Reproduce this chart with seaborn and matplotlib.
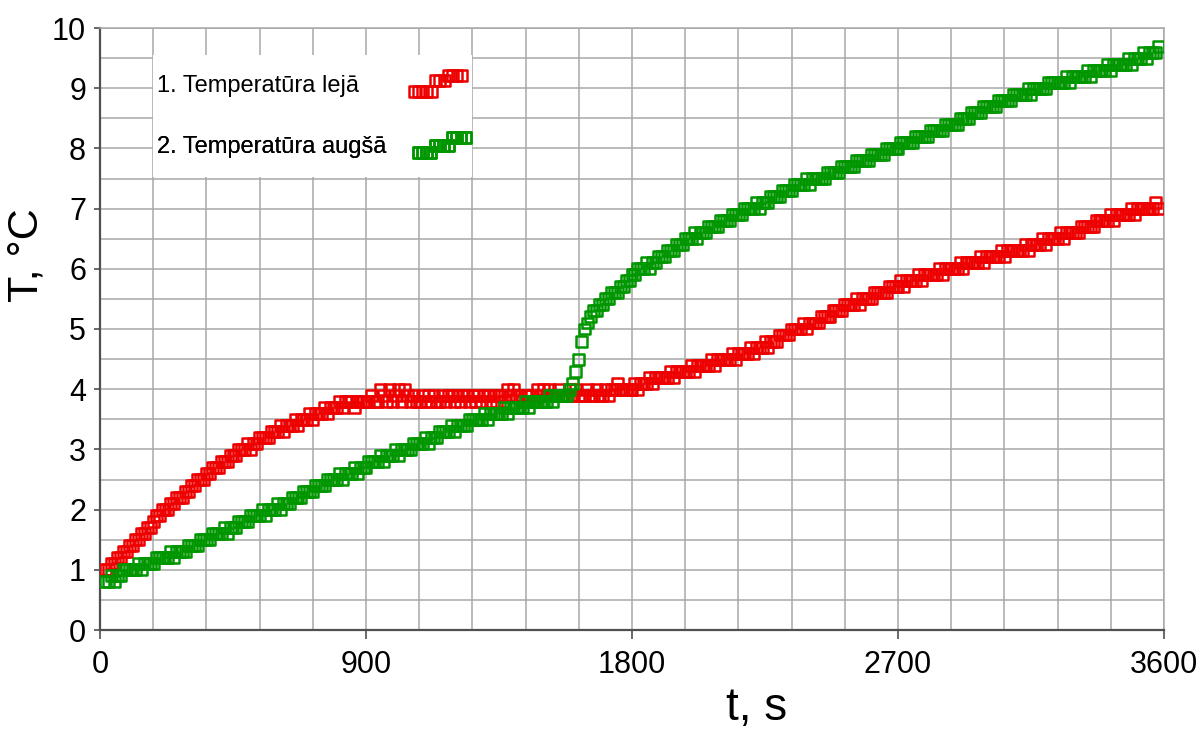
import matplotlib
matplotlib.use("Agg")
import matplotlib.pyplot as plt
from matplotlib import font_manager
from matplotlib.patches import Rectangle
from matplotlib.ticker import FixedLocator, MultipleLocator
import pandas as pd
import seaborn as sns

# ---------------- data ----------------
time_s = list(range(20, 3581, 10))

temp_lower = [
    1.0, 1.0, 1.1, 1.1, 1.2, 1.2, 1.3, 1.3,
    1.4, 1.4, 1.5, 1.5, 1.6, 1.6, 1.7, 1.7, 1.8, 1.9,
    1.9, 2.0, 2.0, 2.0, 2.1, 2.1, 2.2, 2.2, 2.2, 2.3,
    2.3, 2.4, 2.4, 2.5, 2.5, 2.5, 2.6, 2.6, 2.7, 2.7,
    2.7, 2.8, 2.8, 2.8, 2.9, 2.9, 2.9, 3.0, 3.0, 3.0,
    3.1, 3.0, 3.1, 3.1, 3.2, 3.2, 3.2, 3.2, 3.3, 3.3,
    3.3, 3.4, 3.3, 3.4, 3.4, 3.4, 3.5, 3.4, 3.5, 3.5,
    3.5, 3.6, 3.5, 3.6, 3.6, 3.6, 3.7, 3.6, 3.7, 3.7,
    3.7, 3.8, 3.7, 3.8, 3.8, 3.8, 3.7, 3.8, 3.8, 3.8,
    3.8, 3.8, 3.9, 3.8, 3.8, 4.0, 3.9, 3.8, 4.0, 3.8,
    3.9, 4.0, 3.8, 4.0, 3.9, 3.8, 3.9, 3.8, 3.8, 3.9,
    3.8, 3.9, 3.8, 3.9, 3.8, 3.8, 3.9, 3.8, 3.9, 3.9,
    3.8, 3.9, 3.8, 3.9, 3.9, 3.8, 3.9, 3.8, 3.9, 3.8,
    3.9, 3.9, 3.8, 3.9, 3.8, 3.9, 3.9, 3.8, 4.0, 3.9,
    4.0, 3.9, 3.9, 3.8, 3.9, 3.9, 3.9, 3.8, 4.0, 3.9,
    4.0, 3.9, 4.0, 3.9, 3.9, 4.0, 3.9, 3.9, 3.9, 4.0,
    3.9, 4.0, 3.9, 3.9, 3.9, 4.0, 3.9, 3.9, 4.0, 3.9,
    3.9, 4.0, 3.9, 4.0, 4.0, 4.1, 4.0, 4.0, 4.0, 4.0,
    4.0, 4.1, 4.0, 4.1, 4.1, 4.1, 4.2, 4.1, 4.2, 4.2,
    4.2, 4.2, 4.2, 4.3, 4.2, 4.3, 4.3, 4.3, 4.3, 4.3,
    4.4, 4.3, 4.4, 4.4, 4.4, 4.4, 4.4, 4.5, 4.4, 4.5,
    4.5, 4.5, 4.5, 4.5, 4.6, 4.5, 4.6, 4.6, 4.6, 4.6,
    4.7, 4.6, 4.7, 4.7, 4.7, 4.8, 4.7, 4.8, 4.8, 4.8,
    4.9, 4.9, 4.9, 4.9, 5.0, 5.0, 5.0, 5.0, 5.1, 5.0,
    5.1, 5.1, 5.1, 5.1, 5.2, 5.2, 5.2, 5.2, 5.3, 5.3,
    5.3, 5.3, 5.4, 5.4, 5.4, 5.4, 5.5, 5.4, 5.5, 5.5,
    5.5, 5.5, 5.6, 5.6, 5.6, 5.6, 5.6, 5.7, 5.7, 5.7,
    5.7, 5.8, 5.7, 5.8, 5.8, 5.8, 5.8, 5.9, 5.8, 5.9,
    5.9, 5.9, 5.9, 5.9, 6.0, 5.9, 6.0, 6.0, 6.0, 6.0,
    6.0, 6.1, 6.0, 6.1, 6.1, 6.1, 6.1, 6.1, 6.2, 6.1,
    6.2, 6.2, 6.2, 6.2, 6.2, 6.3, 6.2, 6.3, 6.3, 6.3,
    6.3, 6.3, 6.3, 6.4, 6.3, 6.4, 6.4, 6.4, 6.4, 6.5,
    6.4, 6.5, 6.5, 6.5, 6.5, 6.6, 6.5, 6.6, 6.6, 6.6,
    6.6, 6.6, 6.7, 6.7, 6.7, 6.7, 6.7, 6.8, 6.8, 6.8,
    6.8, 6.8, 6.9, 6.8, 6.9, 6.9, 6.9, 6.9, 6.9, 7.0,
    6.9, 7.0, 7.0, 7.0, 7.0, 7.0, 7.0, 7.1, 7.0,
]

temp_upper = [
    0.8, 0.8, 0.9, 0.8, 0.9, 0.9, 1.0, 1.0,
    1.0, 1.0, 1.0, 1.1, 1.0, 1.1, 1.1, 1.1, 1.1, 1.2,
    1.2, 1.2, 1.2, 1.2, 1.3, 1.2, 1.3, 1.3, 1.3, 1.3,
    1.4, 1.4, 1.4, 1.4, 1.5, 1.5, 1.5, 1.5, 1.6, 1.6,
    1.6, 1.6, 1.7, 1.6, 1.7, 1.7, 1.7, 1.8, 1.8, 1.8,
    1.8, 1.9, 1.9, 1.9, 1.9, 2.0, 1.9, 2.0, 2.0, 2.0,
    2.1, 2.0, 2.1, 2.1, 2.1, 2.2, 2.2, 2.2, 2.2, 2.3,
    2.3, 2.3, 2.3, 2.4, 2.4, 2.4, 2.4, 2.5, 2.5, 2.5,
    2.5, 2.6, 2.5, 2.6, 2.6, 2.6, 2.7, 2.6, 2.7, 2.7,
    2.7, 2.8, 2.8, 2.8, 2.8, 2.9, 2.8, 2.9, 2.9, 2.9,
    3.0, 2.9, 3.0, 3.0, 3.0, 3.0, 3.1, 3.1, 3.1, 3.1,
    3.2, 3.1, 3.2, 3.2, 3.2, 3.3, 3.3, 3.3, 3.3, 3.4,
    3.3, 3.4, 3.4, 3.4, 3.4, 3.5, 3.5, 3.5, 3.5, 3.5,
    3.6, 3.5, 3.6, 3.6, 3.6, 3.6, 3.6, 3.7, 3.6, 3.7,
    3.7, 3.7, 3.7, 3.7, 3.8, 3.7, 3.8, 3.8, 3.8, 3.8,
    3.8, 3.8, 3.9, 3.8, 3.9, 3.9, 3.9, 3.9, 3.9, 4.0,
    4.1, 4.3, 4.5, 4.8, 5.0, 5.1, 5.2, 5.3, 5.3, 5.4,
    5.4, 5.5, 5.5, 5.6, 5.6, 5.6, 5.7, 5.7, 5.8, 5.8,
    5.9, 5.9, 6.0, 6.0, 6.0, 6.1, 6.0, 6.1, 6.1, 6.2,
    6.2, 6.2, 6.3, 6.3, 6.3, 6.4, 6.4, 6.4, 6.5, 6.5,
    6.5, 6.6, 6.5, 6.6, 6.6, 6.6, 6.7, 6.7, 6.7, 6.7,
    6.8, 6.8, 6.8, 6.8, 6.9, 6.9, 6.9, 6.9, 7.0, 7.0,
    7.0, 7.0, 7.1, 7.0, 7.1, 7.1, 7.1, 7.2, 7.2, 7.2,
    7.2, 7.3, 7.3, 7.3, 7.3, 7.4, 7.4, 7.4, 7.4, 7.5,
    7.4, 7.5, 7.5, 7.5, 7.5, 7.5, 7.6, 7.6, 7.6, 7.6,
    7.6, 7.7, 7.7, 7.7, 7.7, 7.7, 7.8, 7.8, 7.8, 7.8,
    7.8, 7.9, 7.9, 7.9, 7.9, 7.9, 8.0, 8.0, 8.0, 8.0,
    8.0, 8.1, 8.1, 8.1, 8.1, 8.1, 8.2, 8.2, 8.2, 8.2,
    8.2, 8.3, 8.3, 8.3, 8.3, 8.3, 8.4, 8.4, 8.4, 8.4,
    8.4, 8.5, 8.5, 8.5, 8.5, 8.6, 8.6, 8.6, 8.6, 8.7,
    8.7, 8.7, 8.7, 8.7, 8.8, 8.8, 8.8, 8.8, 8.8, 8.9,
    8.9, 8.9, 8.9, 8.9, 9.0, 8.9, 9.0, 9.0, 9.0, 9.0,
    9.0, 9.1, 9.1, 9.1, 9.1, 9.1, 9.1, 9.2, 9.1, 9.2,
    9.2, 9.2, 9.2, 9.2, 9.3, 9.2, 9.3, 9.3, 9.3, 9.3,
    9.3, 9.4, 9.3, 9.4, 9.4, 9.4, 9.4, 9.4, 9.5, 9.4,
    9.5, 9.5, 9.5, 9.6, 9.5, 9.6, 9.6, 9.6, 9.7,
]

series_names = ["1. Temperatūra lejā", "2. Temperatūra augšā"]
series_colors = ["#ee0000", "#009600"]
x_ticks = [0, 900, 1800, 2700, 3600]
y_ticks = [0, 1, 2, 3, 4, 5, 6, 7, 8, 9, 10]
x_label = "t, s"
y_label = "T, °C"

# ---------------- style ----------------
sns.set_theme(style="white")
plt.rcParams["font.family"] = ["Liberation Sans", "DejaVu Sans"]

installed = {f.name for f in font_manager.fontManager.ttflist}
if "Liberation Sans Narrow" in installed:
    tick_family = ["Liberation Sans Narrow", "Liberation Sans", "DejaVu Sans"]
    tick_size = 26
else:
    tick_family = ["Liberation Sans", "DejaVu Sans"]
    tick_size = 22

W, H = 1199, 731
L, R, T, B = 100, 1164, 28, 630   # plot area in pixels
fig = plt.figure(figsize=(W / 100, H / 100), dpi=100)
fig.patch.set_facecolor("white")
ax = fig.add_axes([L / W, 1 - B / H, (R - L) / W, (B - T) / H])
ax.set_facecolor("white")

n = len(time_s)
df = pd.DataFrame({
    "t": time_s + time_s,
    "T": temp_lower + temp_upper,
    "series": [series_names[0]] * n + [series_names[1]] * n,
})

handles = []
for name, color in zip(series_names, series_colors):
    sns.scatterplot(data=df[df["series"] == name], x="t", y="T", marker="s", s=62,
                    color=color, facecolor="none", edgecolor=color, linewidth=1.8,
                    ax=ax, legend=False, zorder=3)
    handles.append(ax.collections[-1])

ax.set_xlim(0, 3600)
ax.set_ylim(0, 10)
ax.xaxis.set_major_locator(FixedLocator(x_ticks))
ax.xaxis.set_minor_locator(MultipleLocator(180))
ax.yaxis.set_major_locator(FixedLocator(y_ticks))
ax.yaxis.set_minor_locator(MultipleLocator(0.5))
ax.set_axisbelow(True)
ax.grid(True, which="both", color="#a8a8a8", linewidth=1.1)
ax.tick_params(which="minor", length=0)
ax.tick_params(axis="x", which="major", direction="out", length=6.5, width=1.1,
               color="#404040", pad=8, labelsize=tick_size, labelcolor="black",
               bottom=True, labelfontfamily=tick_family)
ax.tick_params(axis="y", which="major", direction="out", length=4.5, width=1.1,
               color="#404040", pad=5.5, labelsize=tick_size, labelcolor="black",
               left=True, labelfontfamily=tick_family)

for s in ["top", "right"]:
    ax.spines[s].set_color("#a8a8a8")
    ax.spines[s].set_linewidth(1.1)
for s in ["left", "bottom"]:
    ax.spines[s].set_color("#505050")
    ax.spines[s].set_linewidth(1.6)

ax.set_xlabel(x_label, fontsize=33, color="black", va="baseline")
ax.xaxis.set_label_coords(0.617, -(720 - B) / (B - T))
ax.set_ylabel(y_label, fontsize=31, color="black", va="center")
ax.yaxis.set_label_coords((27 - L) / (R - L), (B - 255) / (B - T))

# ---------------- legend ----------------
def fx(px):
    return (px - L) / (R - L)

def fy(py):
    return (B - py) / (B - T)

ax.add_patch(Rectangle((fx(153), fy(177)), fx(472) - fx(153), fy(55) - fy(177),
                       transform=ax.transAxes, facecolor="white", edgecolor="none",
                       zorder=2))

leg_fs = 17
fs_px = leg_fs * 100 / 72
renderer = fig.canvas.get_renderer()
text_left = 157
rows = [
    (series_names[0], handles[0], 91.7, 407,
     [0.0, 0.0, 0.0, 0.0, 0.0, 0.65, 0.65, 0.65, 1.0, 1.0, 1.0, 1.0]),
    (series_names[1], handles[1], 152.5, 411,
     [0.0, 0.0, 0.0, 0.0, 0.45, 0.45, 0.45, 0.45, 0.9, 0.9, 0.9, 0.9]),
]
for name, h, baseline, handle_left, offs in rows:
    tmp = fig.text(0, 0, name, fontsize=leg_fs)
    w = tmp.get_window_extent(renderer=renderer).width
    tmp.remove()
    pad = max(0.2, (handle_left - text_left - w) / fs_px)
    leg = ax.legend(handles=[h], labels=[name], loc="center left",
                    bbox_to_anchor=(fx(text_left), fy(baseline - 6)),
                    bbox_transform=ax.transAxes, frameon=False, fontsize=leg_fs,
                    markerfirst=False, handlelength=2.6, handleheight=0.7,
                    handletextpad=pad, borderpad=0, borderaxespad=0,
                    scatterpoints=12, scatteryoffsets=offs, labelcolor="black")
    ax.add_artist(leg)

fig.savefig("out.png", dpi=100, facecolor="white")
